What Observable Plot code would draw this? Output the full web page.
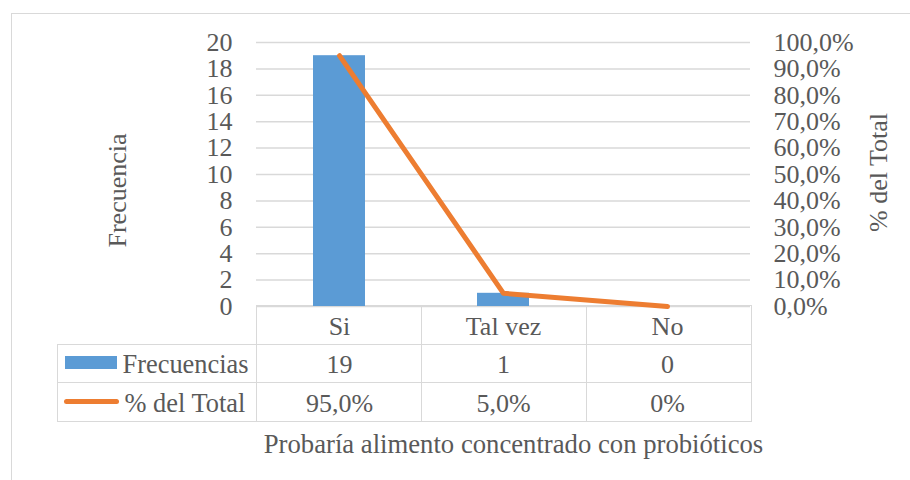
<!DOCTYPE html>
<html>
<head>
<meta charset="utf-8">
<script src="https://cdn.jsdelivr.net/npm/d3@7"></script>
<script src="https://cdn.jsdelivr.net/npm/@observablehq/plot@0.6"></script>
<style>
  html, body { margin: 0; padding: 0; background: #fff; }
  #chart { position: relative; width: 910px; height: 480px; overflow: hidden; background: #fff; }
  #frame { position: absolute; left: 11px; top: 13px; width: 1000px; height: 1000px;
           border: 1.5px solid #d9d9d9; box-sizing: border-box; }
  #chart svg { position: absolute; left: 0; top: 0; }
  #tbl { position: absolute; left: 57px; top: 305px; border-collapse: collapse; table-layout: fixed; }
  #tbl td { border: 1.5px solid #d9d9d9; padding: 0; line-height: 1; }
  #tbl td.empty { border: none; }
  .sw-bar { display: inline-block; width: 52px; height: 13px; background: #5B9BD5; margin-left: 7px; vertical-align: middle; position: relative; top: -2px; }
  .sw-line { display: inline-block; width: 55px; height: 5px; border-radius: 3px; background: #ED7D31; margin-left: 6px; vertical-align: middle; position: relative; top: -2px; }
</style>
</head>
<body>
<div id="chart">
  <div id="frame"></div>
</div>
<script>
// ---- data ----
const categorias = ["Si", "Tal vez", "No"];
const frecuencias = [19, 1, 0];
const porcentajes = [95, 5, 0];
const etiquetasPorcentaje = ["95,0%", "5,0%", "0%"];
const ticksFrecuencia = [0, 2, 4, 6, 8, 10, 12, 14, 16, 18, 20];
const ticksPorcentaje = [0, 10, 20, 30, 40, 50, 60, 70, 80, 90, 100];
const tituloY = "Frecuencia";
const tituloY2 = "% del Total";
const tituloX = "Probaría alimento concentrado con probióticos";
const serieBarras = "Frecuencias";
const serieLinea = "% del Total";

const datos = categorias.map((c, i) => ({cat: c, f: frecuencias[i], p: porcentajes[i], etq: etiquetasPorcentaje[i]}));
const maxF = 20, maxP = 100;
const toF = p => p * maxF / maxP;
const fmtPct = v => (v).toFixed(1).replace(".", ",") + "%";
const gris = "#595959";

// ---- table borders + legend swatches (drawn under the SVG text) ----
const tbl = document.createElement("table");
tbl.id = "tbl";
const cg = document.createElement("colgroup");
[199, 165, 165, 165].forEach(w => { const c = document.createElement("col"); c.style.width = w + "px"; cg.appendChild(c); });
tbl.appendChild(cg);
function row(h, firstClass, firstHTML) {
  const tr = document.createElement("tr");
  tr.style.height = h + "px";
  const f = document.createElement("td");
  if (firstClass) f.className = firstClass;
  f.innerHTML = firstHTML;
  tr.appendChild(f);
  categorias.forEach(() => tr.appendChild(document.createElement("td")));
  tbl.appendChild(tr);
}
row(39, "empty", "");
row(38, "", '<span class="sw-bar"></span>');
row(39, "", '<span class="sw-line"></span>');
document.getElementById("chart").appendChild(tbl);

const chart = Plot.plot({
  width: 910,
  height: 480,
  marginLeft: 256,
  marginRight: 160,
  marginTop: 42,
  marginBottom: 174,
  style: {fontFamily: "'Liberation Serif', 'Times New Roman', serif", fontSize: "26px", color: gris, background: "transparent", overflow: "visible"},
  x: {domain: categorias, padding: 0, axis: null},
  y: {domain: [0, maxF], axis: null},
  marks: [
    Plot.ruleY(ticksFrecuencia, {stroke: "#d9d9d9", strokeWidth: 1.5}),
    Plot.barY(datos, {x: "cat", y: "f", fill: "#5B9BD5", insetLeft: 56, insetRight: 56}),
    Plot.line(datos, {x: "cat", y: d => toF(d.p), stroke: "#ED7D31", strokeWidth: 5,
                      strokeLinecap: "round", strokeLinejoin: "round"}),
    Plot.axisY({anchor: "left", ticks: ticksFrecuencia, tickSize: 0, tickPadding: 24, label: null,
                fill: gris, fontSize: 26}),
    Plot.axisY({anchor: "right", ticks: ticksPorcentaje.map(toF), tickFormat: v => fmtPct(v * maxP / maxF),
                tickSize: 0, tickPadding: 23, label: null, fill: gris, fontSize: 26}),
    Plot.text([tituloY], {frameAnchor: "left", textAnchor: "middle", rotate: -90, dx: -139, dy: 16, fill: gris, fontSize: 26}),
    Plot.text([tituloY2], {frameAnchor: "right", textAnchor: "middle", rotate: -90, dx: 128, dy: -2, fill: gris, fontSize: 26}),
    // data table text
    Plot.text(datos, {x: "cat", text: "cat", frameAnchor: "bottom", lineAnchor: "middle", dy: 20, fill: gris, fontSize: 26}),
    Plot.text(datos, {x: "cat", text: d => String(d.f), frameAnchor: "bottom", lineAnchor: "middle", dy: 58, fill: gris, fontSize: 26}),
    Plot.text(datos, {x: "cat", text: "etq", frameAnchor: "bottom", lineAnchor: "middle", dy: 97, fill: gris, fontSize: 26}),
    Plot.text([serieBarras], {frameAnchor: "bottom-left", textAnchor: "start", lineAnchor: "middle", dx: -134, dy: 58, fill: gris, fontSize: 26.4}),
    Plot.text([serieLinea], {frameAnchor: "bottom-left", textAnchor: "start", lineAnchor: "middle", dx: -132, dy: 97, fill: gris, fontSize: 26.4}),
    Plot.text([tituloX], {frameAnchor: "bottom", lineAnchor: "middle", dx: 10, dy: 138, fill: gris, fontSize: 26.7})
  ]
});
document.getElementById("chart").appendChild(chart);
</script>
</body>
</html>
